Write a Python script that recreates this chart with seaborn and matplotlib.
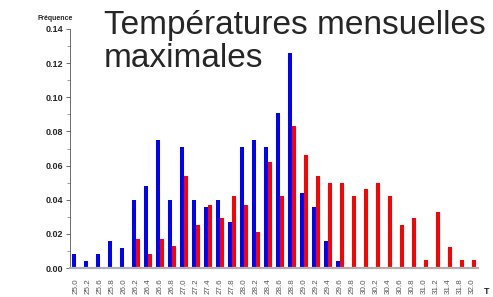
import pandas as pd
import matplotlib
matplotlib.use("Agg")
import matplotlib.pyplot as plt
import seaborn as sns
from matplotlib.ticker import MultipleLocator, FormatStrFormatter

# ---------------- DATA ----------------
temps = ["25.0", "25.2", "25.6", "25.8", "26.0", "26.2", "26.4", "26.6", "26.8",
         "27.0", "27.2", "27.4", "27.6", "27.8", "28.0", "28.2", "28.4", "28.6",
         "28.8", "29.0", "29.2", "29.4", "29.6", "29.8", "30.0", "30.2", "30.4",
         "30.6", "30.8", "31.0", "31.2", "31.4", "31.8", "32.0"]

freq_blue = [0.008, 0.004, 0.008, 0.016, 0.012, 0.040, 0.048, 0.075, 0.040, 0.071,
             0.040, 0.036, 0.040, 0.027, 0.071, 0.075, 0.071, 0.091, 0.126, 0.044,
             0.036, 0.016, 0.004, 0.0, 0.0, 0.0, 0.0, 0.0, 0.0, 0.0,
             0.0, 0.0, 0.0, 0.0]

freq_red = [0.0, 0.0, 0.0, 0.0, 0.0, 0.017, 0.008, 0.017, 0.013, 0.054,
            0.025, 0.037, 0.029, 0.042, 0.037, 0.021, 0.062, 0.042, 0.083, 0.066,
            0.054, 0.050, 0.050, 0.042, 0.046, 0.050, 0.042, 0.025, 0.029, 0.0045,
            0.033, 0.0125, 0.0045, 0.0045]

df = pd.DataFrame({
    "T": temps * 2,
    "freq": freq_blue + freq_red,
    "serie": ["bleu"] * len(temps) + ["rouge"] * len(temps),
})

# ---------------- PLOT ----------------
sns.set_style("white")
plt.rcParams["font.family"] = ["Liberation Sans", "DejaVu Sans"]

fig = plt.figure(figsize=(4.93, 2.97), dpi=100)
ax = fig.add_axes([70 / 493, 29 / 297, 408 / 493, 239 / 297])

sns.barplot(data=df, x="T", y="freq", hue="serie", order=temps,
            palette={"bleu": "#0000ff", "rouge": "#ff0000"},
            saturation=1, width=0.62, gap=0, linewidth=0,
            legend=False, ax=ax)

ax.set_xlim(-0.5, len(temps) - 0.5)
ax.set_ylim(0, 0.14)
ax.yaxis.set_major_locator(MultipleLocator(0.02))
ax.yaxis.set_minor_locator(MultipleLocator(0.01))
ax.yaxis.set_major_formatter(FormatStrFormatter("%.2f"))

for s in ["top", "right"]:
    ax.spines[s].set_visible(False)
ax.spines["left"].set_color("#555555")
ax.spines["left"].set_linewidth(0.6)
ax.spines["bottom"].set_color("#b0b0b0")
ax.spines["bottom"].set_linewidth(1.6)

ax.tick_params(axis="y", which="major", left=True, length=3, width=0.6,
               color="#555555", labelsize=6.5, pad=2)
ax.tick_params(axis="y", which="minor", left=True, length=2, width=0.5,
               color="#777777")
ax.tick_params(axis="x", bottom=False, labelsize=5.8, labelcolor="#555555",
               rotation=90, pad=4)
for lab in ax.get_yticklabels():
    lab.set_fontweight("bold")

ax.set_xlabel("")
ax.set_ylabel("")

fig.text(38 / 493, 1 - 18 / 297, "Fréquence", fontsize=5, fontweight="bold",
         ha="left", va="center")
fig.text(487 / 493, 1 - 291 / 297, "T", fontsize=6.5, fontweight="bold",
         ha="center", va="center")
fig.text(104 / 493, 1 - 10 / 297, "Températures mensuelles\nmaximales",
         fontsize=24, ha="left", va="top", linespacing=1.1)

fig.savefig("out.png", dpi=100)
